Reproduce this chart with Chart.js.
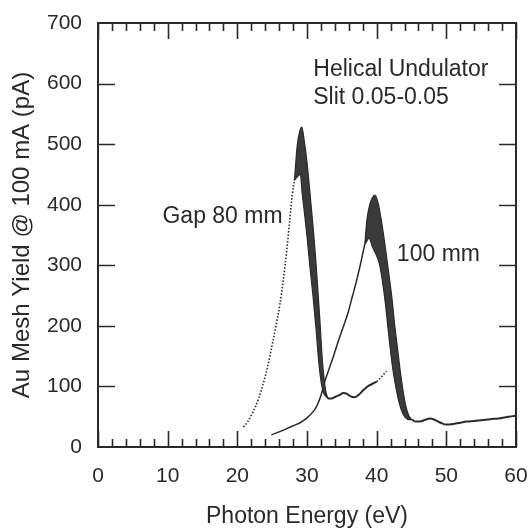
<!DOCTYPE html>
<html>
<head>
<meta charset="utf-8">
<script src="https://cdn.jsdelivr.net/npm/chart.js@4.4.1/dist/chart.umd.min.js"></script>
<style>
  html, body { margin: 0; padding: 0; background: #fff; }
  canvas { display: block; }
</style>
</head>
<body>
<canvas id="yieldChart" width="530" height="528"></canvas>
<script>
// Au mesh yield vs photon energy, helical undulator
const xTicks = [0, 10, 20, 30, 40, 50, 60]
const yTicks = [0, 100, 200, 300, 400, 500, 600, 700]

// Gap 80 mm: dotted rise, thick peak band (outer / inner edge), tail
const gap80Rise = [[20.9, 33], [21.5, 42], [22.2, 57], [23.0, 78], [23.8, 108], [24.4, 135], [24.9, 163],
  [25.5, 197], [26.1, 235], [26.6, 276], [27.1, 325], [27.5, 372], [27.9, 418], [28.2, 440]]
const gap80Outer = [[28.2, 440], [28.6, 498], [29.0, 523], [29.25, 528], [29.6, 506], [30.0, 470], [30.4, 422],
  [30.8, 372], [31.2, 318], [31.6, 252], [31.9, 200], [32.15, 152], [32.4, 118], [32.7, 92], [33.0, 80]]
const gap80Inner = [[28.2, 440], [28.6, 446], [29.05, 450], [29.3, 420], [29.6, 390], [30.0, 348], [30.4, 300],
  [30.9, 245], [31.3, 195], [31.6, 152], [31.9, 118], [32.3, 92], [33.0, 80]]
const gap80Tail = [[33.0, 80], [33.5, 80], [34.1, 83], [34.7, 86], [35.2, 89], [35.7, 88], [36.2, 84],
  [36.8, 82], [37.4, 86], [38.1, 94], [38.6, 99], [39.0, 102], [39.5, 105], [40.0, 108]]
const gap80TailDots = [[40.0, 108], [40.7, 116], [41.4, 125]]

// Gap 100 mm
const gap100Rise = [[24.9, 20], [26.0, 25], [27.0, 30], [28.0, 35], [29.0, 40], [30.0, 48], [31.0, 60],
  [31.5, 70], [32.0, 85], [32.6, 110], [33.2, 130], [33.8, 150], [34.5, 175], [35.2, 198], [35.9, 222],
  [36.5, 248], [37.1, 274], [37.6, 298], [38.3, 335]]
const gap100Outer = [[38.3, 335], [38.6, 375], [39.0, 400], [39.4, 412], [39.75, 416], [40.2, 403], [40.7, 372],
  [41.2, 333], [41.7, 290], [42.2, 245], [42.6, 200], [43.0, 162], [43.4, 124], [43.8, 92], [44.2, 67],
  [44.6, 52], [45.1, 45]]
const gap100Inner = [[38.3, 335], [38.6, 340], [38.9, 345], [39.4, 330], [39.9, 318], [40.4, 302], [40.9, 268],
  [41.3, 232], [41.8, 178], [42.3, 130], [42.8, 96], [43.3, 70], [43.8, 54], [44.4, 46], [45.1, 45]]
const gap100Tail = [[45.1, 45], [45.6, 42], [46.2, 42], [47.0, 45], [47.65, 47], [48.3, 45], [49.2, 40],
  [50.0, 37], [51.0, 38], [52.0, 40], [52.9, 42], [54.0, 43], [55.0, 44], [56.3, 46], [57.5, 47],
  [58.5, 49], [59.6, 51], [60.0, 52]]

// text placed at data coordinates
const notes = [
  { text: "Helical Undulator", x: 30.9, y: 623, align: "left" },
  { text: "Slit 0.05-0.05", x: 30.9, y: 576, align: "left" },
  { text: "Gap 80 mm", x: 26.5, y: 381, align: "right" },
  { text: "100 mm", x: 42.9, y: 317, align: "left" },
]

const ink = "#2a2a2a"
const fontFamily = "'Liberation Sans', Arial, Helvetica, sans-serif"
const pts = (arr) => arr.map(([x, y]) => ({ x, y }))

function line(data, width, dash) {
  return {
    data: pts(data),
    borderColor: ink,
    borderWidth: width,
    borderDash: dash || [],
    pointRadius: 0,
    cubicInterpolationMode: "monotone",
    fill: false,
  }
}

function band(data) {
  return {
    data: pts(data),
    borderColor: ink,
    borderWidth: 1.2,
    pointRadius: 0,
    cubicInterpolationMode: "monotone",
    backgroundColor: "#3a3a3a",
    fill: "-1",
  }
}

// inward ticks all round plus closed frame
const frameTicks = {
  id: "frameTicks",
  afterDraw(chart) {
    const { ctx, chartArea: a, scales } = chart
    const x = scales.x
    const y = scales.y
    ctx.save()
    ctx.strokeStyle = ink
    ctx.lineWidth = 1.6
    ctx.beginPath()
    for (let v = 0; v <= 60; v += 2) {
      const px = Math.round(x.getPixelForValue(v)) + 0.5
      const len = v % 10 === 0 ? 16 : 8
      ctx.moveTo(px, a.bottom)
      ctx.lineTo(px, a.bottom - len)
      ctx.moveTo(px, a.top)
      ctx.lineTo(px, a.top + len)
    }
    for (let v = 100; v < 700; v += 100) {
      const py = Math.round(y.getPixelForValue(v)) + 0.5
      ctx.moveTo(a.left, py)
      ctx.lineTo(a.left + 17, py)
      ctx.moveTo(a.right, py)
      ctx.lineTo(a.right - 17, py)
    }
    ctx.stroke()
    ctx.lineWidth = 2
    ctx.strokeRect(a.left, a.top, a.right - a.left, a.bottom - a.top)

    ctx.fillStyle = ink
    ctx.font = "23px " + fontFamily
    ctx.textBaseline = "middle"
    notes.forEach((n) => {
      ctx.textAlign = n.align
      ctx.fillText(n.text, x.getPixelForValue(n.x), y.getPixelForValue(n.y))
    })
    ctx.restore()
  },
}

document.addEventListener("DOMContentLoaded", () => {
  Chart.defaults.font.family = fontFamily
  Chart.defaults.color = ink

  const ctx = document.getElementById("yieldChart").getContext("2d")
  new Chart(ctx, {
    type: "line",
    data: {
      datasets: [
        line(gap80Rise, 1.6, [1.5, 1.8]),
        line(gap80Outer, 1.2),
        band(gap80Inner),
        line(gap80Tail, 2),
        line(gap80TailDots, 1.6, [1.5, 1.8]),
        line(gap100Rise, 1.5),
        line(gap100Outer, 1.2),
        band(gap100Inner),
        line(gap100Tail, 2),
      ],
    },
    options: {
      responsive: false,
      animation: false,
      layout: { padding: { top: 23, right: 14, left: 0, bottom: 0 } },
      plugins: {
        legend: { display: false },
        tooltip: { enabled: false },
      },
      scales: {
        x: {
          type: "linear",
          min: 0,
          max: 60,
          afterBuildTicks: (s) => { s.ticks = xTicks.map((v) => ({ value: v })) },
          afterFit: (s) => { s.height = 81; s.paddingLeft = 0; s.paddingRight = 0 },
          grid: { display: false, drawTicks: false },
          border: { display: false },
          ticks: { padding: 17, font: { size: 21 }, color: ink, maxRotation: 0 },
          title: {
            display: true,
            text: "Photon Energy (eV)",
            font: { size: 23, lineHeight: 1 },
            padding: { top: 0, bottom: 0 },
            color: ink,
          },
        },
        y: {
          min: 0,
          max: 700,
          afterBuildTicks: (s) => { s.ticks = yTicks.map((v) => ({ value: v })) },
          afterFit: (s) => { s.width = 98; s.paddingTop = 0; s.paddingBottom = 0 },
          grid: { display: false, drawTicks: false },
          border: { display: false },
          ticks: { padding: 16, font: { size: 21 }, color: ink },
          title: {
            display: true,
            text: "Au Mesh Yield @ 100 mA (pA)",
            font: { size: 24, lineHeight: 1 },
            padding: { top: 10, bottom: 0 },
            color: ink,
          },
        },
      },
    },
    plugins: [frameTicks],
  })
})
</script>
</body>
</html>
